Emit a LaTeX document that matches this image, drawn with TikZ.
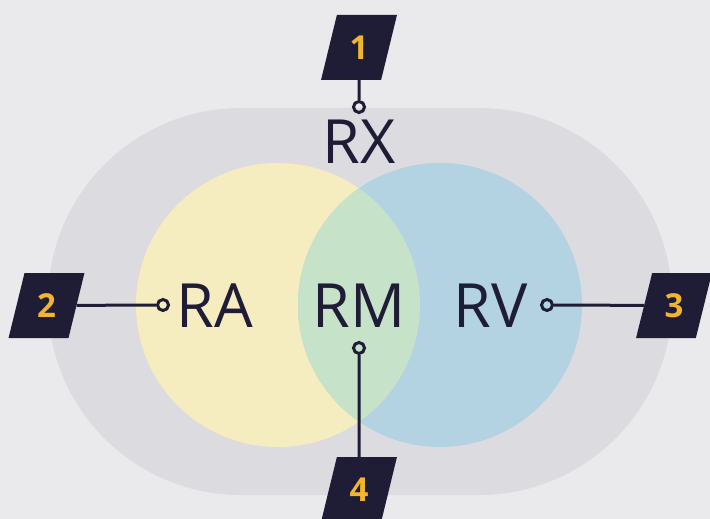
\documentclass[tikz,border=0pt]{standalone}
\usepackage{fontspec}
\setmainfont{Open Sans}
\usetikzlibrary{positioning, shapes.geometric}
\definecolor{dgbg}{HTML}{EAEAEC}
\definecolor{dgring}{HTML}{DCDBE0}
\definecolor{dgyellow}{HTML}{F5ECC0}
\definecolor{dgblue}{HTML}{B3D3E3}
\definecolor{dggreen}{HTML}{C6E2C8}
\definecolor{dgnavy}{HTML}{1F1D36}
\definecolor{dggold}{HTML}{F2B52B}

\begin{document}
\begin{tikzpicture}[
  x=1pt, y=-1pt,
  badge/.style={trapezium, trapezium left angle=74, trapezium right angle=106, trapezium stretches=true, fill=dgnavy, minimum width=76pt, minimum height=65pt, inner sep=0pt, text=dggold, font=\fontsize{33}{34}\selectfont\bfseries},
  pin/.style={circle, draw=dgnavy, line width=3pt, minimum size=11pt, inner sep=0pt},
  region/.style={inner sep=0pt, text=dgnavy, font=\fontsize{61}{62}\selectfont},
  lead/.style={draw=dgnavy, line width=3pt},
]

\useasboundingbox (0,0) rectangle (710,519);
\clip (0,0) rectangle (710,519);
\fill[dgbg] (0,0) rectangle (710,519);

% Outer stadium and the two sets
\fill[dgring, rounded corners=193pt] (48,108) rectangle (672,495);
\fill[dgyellow] (278,305) circle[radius=142];
\fill[dgblue] (440,305) circle[radius=142];
\begin{scope}
  \clip (278,305) circle[radius=142];
  \fill[dggreen] (440,305) circle[radius=142];
\end{scope}

% Region labels
\node[region] (rx) at (359,142) {RX};
\node[region] (ra) at (215,306) {RA};
\node[region] (rm) at (359,306) {RM};
\node[region] (rv) at (491,306) {RV};

% Pins
\node[pin] (p1) at (359,107) {};
\node[pin] (p2) at (163,305) {};
\node[pin] (p3) at (547,305) {};
\node[pin] (p4) at (359,348) {};

% Badges
\node[badge] (b1) at (359,47.5) {1};
\node[badge] (b2) at (46.5,305.5) {2};
\node[badge] (b3) at (674,305.5) {3};
\node[badge] (b4) at (359,489.5) {4};

% Leads
\draw[lead] (p1) -- (b1);
\draw[lead] (p2) -- (b2);
\draw[lead] (p3) -- (b3);
\draw[lead] (p4) -- (b4);

\end{tikzpicture}
\end{document}
